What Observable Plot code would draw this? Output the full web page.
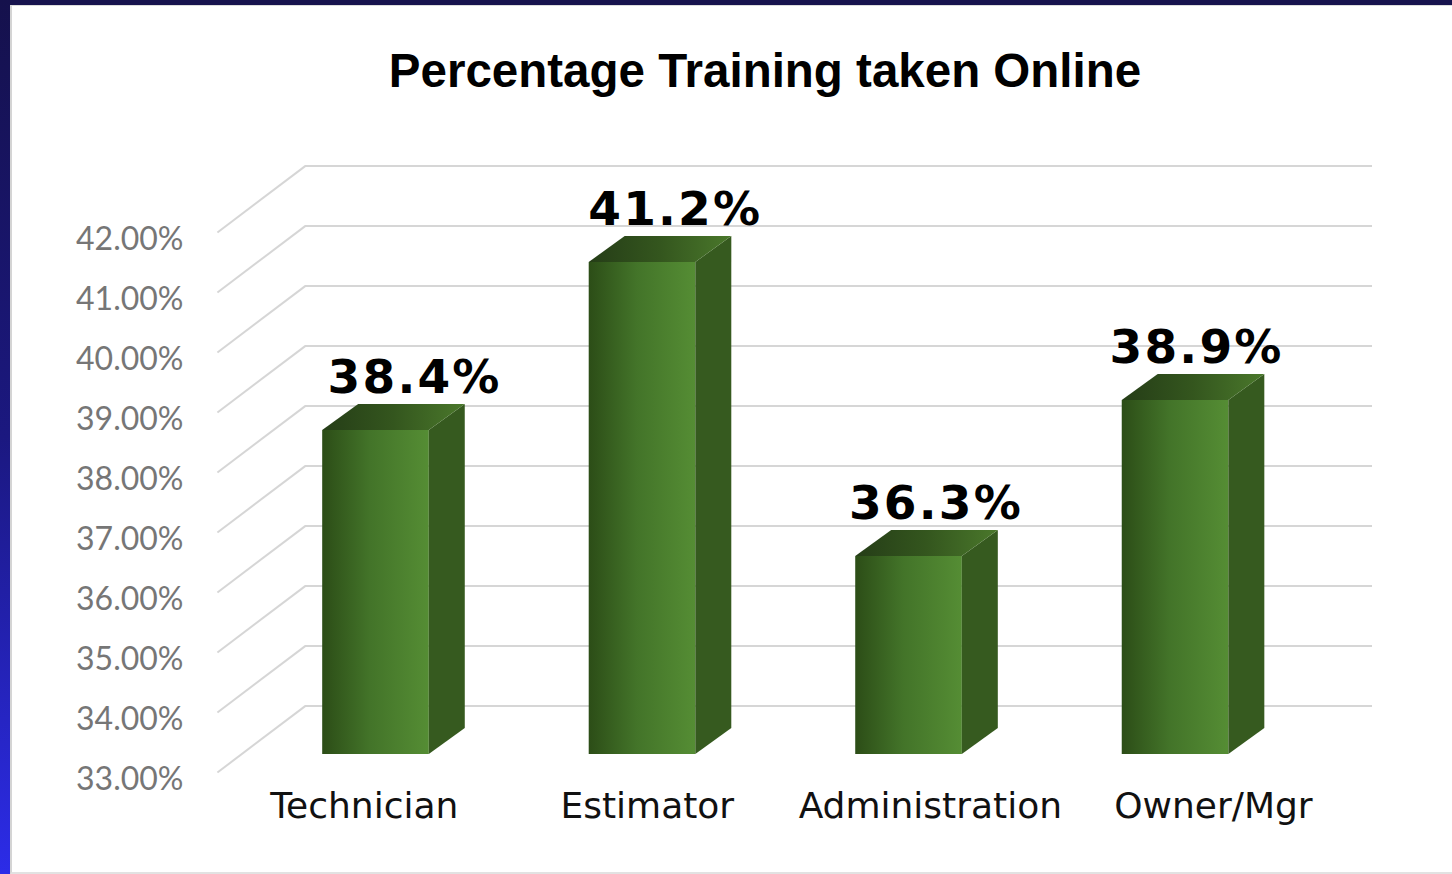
<!DOCTYPE html>
<html><head><meta charset="utf-8">
<script src="https://cdn.jsdelivr.net/npm/d3@7"></script>
<script src="https://cdn.jsdelivr.net/npm/@observablehq/plot@0.6"></script>
<style>
html,body{margin:0;padding:0;background:#fff;}
#wrap{position:relative;width:1452px;height:874px;overflow:hidden;background:#fff;}
#topband{position:absolute;left:0;top:0;width:1452px;height:5px;background:#17134e;}
#leftband{position:absolute;left:0;top:0;width:10px;height:874px;background:linear-gradient(to bottom,#15114c 0%,#1b1880 50%,#2c2ce8 100%);}
#panel{position:absolute;left:10px;top:5px;right:0;bottom:0;border-left:2px solid #d4d4d4;border-top:1px solid #dcdcdc;border-bottom:2px solid #e2e2e2;box-sizing:border-box;}
#title{position:absolute;left:0;width:1530px;top:47px;text-align:center;font:bold 47.5px "Liberation Sans",Arial,sans-serif;line-height:1;color:#000;}
#chart{position:absolute;left:0;top:0;}
</style></head><body>
<div id="wrap">
 <div id="topband"></div><div id="leftband"></div><div id="panel"></div>
 <div id="chart"></div>
 <div id="title">Percentage Training taken Online</div>
</div>
<script>
// ---- data ----
const categories = ["Technician", "Estimator", "Administration", "Owner/Mgr"];
const values = [38.4, 41.2, 36.3, 38.9];
const valueLabels = ["38.4%", "41.2%", "36.3%", "38.9%"];
const yTicks = [33, 34, 35, 36, 37, 38, 39, 40, 41, 42];
const yTickLabels = ["33.00%", "34.00%", "35.00%", "36.00%", "37.00%", "38.00%", "39.00%", "40.00%", "41.00%", "42.00%"];

// ---- 3D geometry (in scale units) ----
const yMin = yTicks[0];
const halfW = 0.2;        // half bar width
const du = 0.135;         // depth offset in x
const dv = 0.433;         // depth offset in y
const backDv = 0.81;      // back wall offset
const frontDv = -0.3;     // front floor edge offset
const frontLeftX = -0.595;
const xDomain = [-0.2645, 3.739];

const bars = categories.map((c, i) => ({cat: c, i, v: values[i], label: valueLabels[i]}));
const topPts = bars.flatMap(b => [
  {cat: b.cat, y: b.v, x1: b.i - halfW, x2: b.i + halfW},
  {cat: b.cat, y: b.v + dv, x1: b.i - halfW + du, x2: b.i + halfW + du}
]);
const sidePts = bars.flatMap(b => [
  {cat: b.cat, x: b.i + halfW, y1: yMin, y2: b.v},
  {cat: b.cat, x: b.i + halfW + du, y1: yMin + dv, y2: b.v + dv}
]);

const grid = "#d6d6d6";
const svg = Plot.plot({
  width: 1452,
  height: 874,
  marginLeft: 305,
  marginRight: 80,
  marginTop: 214,
  marginBottom: 120,
  style: {background: "transparent", overflow: "visible"},
  x: {domain: xDomain, axis: null},
  y: {domain: [yMin, yTicks[yTicks.length - 1]], axis: null},
  marks: [
    Plot.ruleY(yTicks, {y: d => d + backDv, stroke: grid, strokeWidth: 2}),
    Plot.link(yTicks, {x1: () => xDomain[0], y1: d => d + backDv, x2: () => frontLeftX, y2: d => d + frontDv, stroke: grid, strokeWidth: 2}),
    Plot.rect(bars, {x1: d => d.i - halfW, x2: d => d.i + halfW, y1: () => yMin, y2: "v", fill: "url(#gFront)"}),
    Plot.areaY(sidePts, {x: "x", y1: "y1", y2: "y2", z: "cat", fill: "#365a1f"}),
    Plot.areaX(topPts, {y: "y", x1: "x1", x2: "x2", z: "cat", fill: "url(#gTop)"}),
    Plot.text(yTickLabels, {frameAnchor: "left", y: (d, i) => yTicks[i], text: d => d, textAnchor: "end", lineAnchor: "bottom", dx: -122, dy: 35, fill: "#767676", fontSize: 32, fontFamily: "Lato"}),
    Plot.text(bars, {x: d => d.i * 0.978 + 0.145, y: "v", text: "label", lineAnchor: "bottom", dy: -38, fontSize: 47, fontWeight: "bold", fontFamily: "DejaVu Sans", fill: "#000"}),
    Plot.text(bars, {x: d => 1.549 + (d.i - 1.5) * 1.062, frameAnchor: "bottom", text: "cat", lineAnchor: "bottom", dy: 63, fontSize: 36, fontFamily: "DejaVu Sans", fill: "#111"})
  ]
});
svg.insertAdjacentHTML("afterbegin", `<defs>
 <linearGradient id="gFront" x1="0" y1="0" x2="1" y2="0">
  <stop offset="0" stop-color="#2c4d17"/><stop offset="0.45" stop-color="#437429"/><stop offset="1" stop-color="#558d34"/>
 </linearGradient>
 <linearGradient id="gTop" x1="0" y1="0" x2="1" y2="0">
  <stop offset="0" stop-color="#253d17"/><stop offset="0.5" stop-color="#34561e"/><stop offset="1" stop-color="#4a782b"/>
 </linearGradient>
</defs>`);
d3.select(svg).selectAll("text").filter(function () { return valueLabels.includes(this.textContent); }).style("letter-spacing", "2.2px");
document.getElementById("chart").appendChild(svg);
</script>
</body></html>
